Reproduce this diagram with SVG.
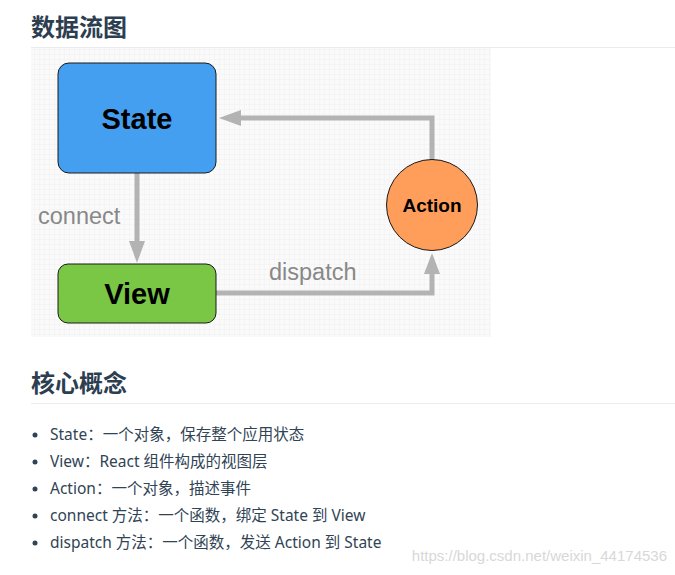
<svg xmlns="http://www.w3.org/2000/svg" width="675" height="575" viewBox="0 0 675 575">
<style>
.h{font-family:"Noto Sans CJK SC","Noto Sans",sans-serif;font-weight:bold;font-size:24px;fill:#2c3e50}
.b{font-family:"Noto Sans","Noto Sans CJK SC",sans-serif;font-size:15.5px;fill:#304455}
.lbl{font-family:"Liberation Sans",Arial,sans-serif;font-size:23.5px;fill:#888}
.nt{font-family:"Liberation Sans",Arial,sans-serif;font-weight:bold;fill:#000;text-anchor:middle}
.c{fill:none;stroke:#b3b3b3;stroke-width:5}
.ah{fill:#b3b3b3}
</style>
<defs>
<pattern id="g" width="5" height="5" patternUnits="userSpaceOnUse"><path d="M5 0V5H0" fill="none" stroke="#ececec" stroke-width="0.6"/></pattern>
</defs>
<rect width="675" height="575" fill="#fff"/>
<text class="h" x="31" y="36">数据流图</text>
<line x1="31" y1="47.5" x2="675" y2="47.5" stroke="#eaecef"/>
<rect x="31" y="48" width="460" height="289" fill="#fafafa"/>
<rect x="31" y="48" width="460" height="289" fill="url(#g)"/>
<g id="connectors">
<path class="c" d="M137 173V246"/>
<polygon class="ah" points="129,241 145,241 137,263"/>
<path class="c" d="M432 160V118H236"/>
<polygon class="ah" points="219,118 241,110 241,126"/>
<path class="c" d="M216 293H432V270"/>
<polygon class="ah" points="432,253 424,274 440,274"/>
<text class="lbl" x="38" y="224">connect</text>
<text class="lbl" x="269" y="280">dispatch</text>
</g>
<g id="state"><rect x="58" y="63" width="158" height="110" rx="11" fill="#459ff0" stroke="#1a1a1a" stroke-width="1"/><text class="nt" x="137" y="129" font-size="29">State</text></g>
<g id="view"><rect x="58" y="264" width="158" height="59" rx="10" fill="#7ac645" stroke="#1a1a1a" stroke-width="1"/><text class="nt" x="137" y="304" font-size="29">View</text></g>
<g id="action"><circle cx="432" cy="205" r="45.5" fill="#fe9e5a" stroke="#1a1a1a" stroke-width="1"/><text class="nt" x="432" y="212" font-size="19">Action</text></g>
<text class="h" x="31" y="392">核心概念</text>
<line x1="31" y1="403.5" x2="675" y2="403.5" stroke="#eaecef"/>
<g fill="#304455"><circle cx="35" cy="435" r="2.5"/><circle cx="35" cy="462" r="2.5"/><circle cx="35" cy="489" r="2.5"/><circle cx="35" cy="516" r="2.5"/><circle cx="35" cy="543" r="2.5"/></g>
<text class="b" x="50" y="440">State：一个对象，保存整个应用状态</text>
<text class="b" x="50" y="467">View：React 组件构成的视图层</text>
<text class="b" x="50" y="494">Action：一个对象，描述事件</text>
<text class="b" x="50" y="521">connect 方法：一个函数，绑定 State 到 View</text>
<text class="b" x="50" y="548">dispatch 方法：一个函数，发送 Action 到 State</text>
<text x="667" y="561" text-anchor="end" font-family="Liberation Sans,Arial,sans-serif" font-size="15" fill="#d8d8d8">https://blog.csdn.net/weixin_44174536</text>
</svg>
